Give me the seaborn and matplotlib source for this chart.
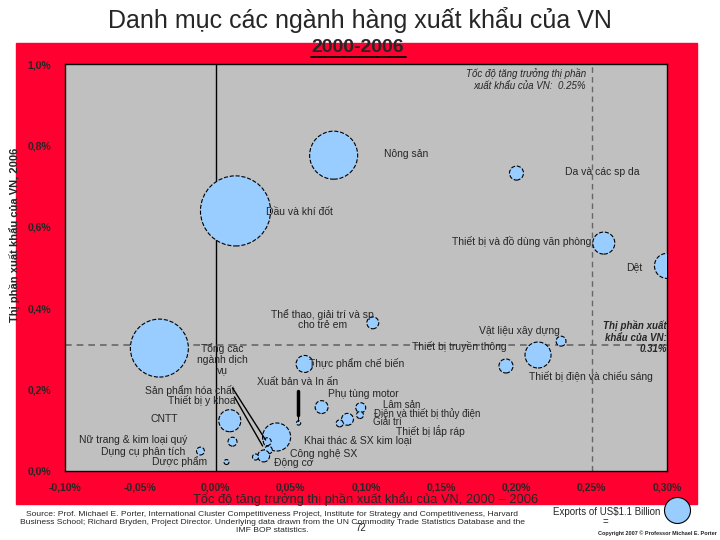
import matplotlib
matplotlib.use("Agg")
import matplotlib.pyplot as plt
from matplotlib.patches import Rectangle
from matplotlib.lines import Line2D
import pandas as pd
import seaborn as sns

# Bubbles: growth 2000-2006 (%), share 2006 (%), exports (US$ bn)
sectors = ["Dầu và khí đốt", "Nông sản", "Da và các sp da", "Thiết bị và đồ dùng văn phòng", "Dệt",
           "Tổng các ngành dịch vụ", "Thể thao, giải trí và sp cho trẻ em", "Vật liệu xây dựng",
           "Thiết bị truyền thông", "Thiết bị điện và chiếu sáng", "Thực phẩm chế biến",
           "Xuất bản và In ấn", "Phụ tùng motor", "Lâm sản", "Điện và thiết bị thủy điện", "Giải trí",
           "Thiết bị lắp ráp", "Khai thác & SX kim loại", "Sản phẩm hóa chất", "Thiết bị y khoa",
           "Công nghệ SX", "Động cơ", "CNTT", "Nữ trang & kim loại quý", "Dụng cụ phân tích", "Dược phẩm"]
growth = [0.0133, 0.0785, 0.200, 0.258, 0.300,
          -0.0373, 0.1045, 0.2296,
          0.2143, 0.193, 0.0592,
          0.0552, 0.0705, 0.0965, 0.0960, 0.0877,
          0.0825, 0.0406, 0.0344, 0.0351,
          0.032, 0.0266, 0.0095, 0.0113, -0.010, 0.0073]
share = [0.639, 0.776, 0.732, 0.560, 0.504,
         0.302, 0.364, 0.319,
         0.285, 0.258, 0.263,
         0.118, 0.157, 0.1555, 0.1376, 0.127,
         0.117, 0.0835, 0.072, 0.0516,
         0.0369, 0.0344, 0.1236, 0.072, 0.049, 0.022]
exports = [8.0, 3.75, 0.32, 0.79, 1.02,
           5.47, 0.23, 0.16,
           1.10, 0.32, 0.47,
           0.03, 0.27, 0.16, 0.08, 0.23,
           0.08, 1.28, 0.10, 0.10,
           0.23, 0.06, 0.79, 0.13, 0.10, 0.04]

legend_exports = 1.1
avg_growth = 0.25
avg_share = 0.31

x_ticks = [-0.10, -0.05, 0.00, 0.05, 0.10, 0.15, 0.20, 0.25, 0.30]
x_ticklabels = ["-0,10%", "-0,05%", "0,00%", "0,05%", "0,10%", "0,15%", "0,20%", "0,25%", "0,30%"]
y_ticks = [0.0, 0.2, 0.4, 0.6, 0.8, 1.0]
y_ticklabels = ["0,0%", "0,2%", "0,4%", "0,6%", "0,8%", "1,0%"]

# label text, x, y, horizontal alignment, font size
labels = [
    ("Nông sản", 0.1118, 0.779, "left", 7.5),
    ("Da và các sp da", 0.2323, 0.735, "left", 7.5),
    ("Dầu và khí đốt", 0.0333, 0.636, "left", 7.5),
    ("Thiết bị và đồ dùng văn phòng", 0.2496, 0.563, "right", 7.5),
    ("Dệt", 0.2729, 0.501, "left", 7.5),
    ("Thể thao, giải trí và sp\ncho trẻ em", 0.0712, 0.372, "center", 7.5),
    ("Vật liệu xây dựng", 0.175, 0.344, "left", 7.5),
    ("Thiết bị truyền thông", 0.1304, 0.307, "left", 7.5),
    ("Thiết bị điện và chiếu sáng", 0.2083, 0.231, "left", 7.5),
    ("Thực phẩm chế biến", 0.0619, 0.263, "left", 7.5),
    ("Tổng các\nngành dịch\nvụ", 0.0047, 0.275, "center", 7.5),
    ("Xuất bản và In ấn", 0.0273, 0.219, "left", 7.5),
    ("Phụ tùng motor", 0.0745, 0.189, "left", 7.5),
    ("Sản phẩm hóa chất", 0.0126, 0.199, "right", 7.5),
    ("Thiết bị y khoa", 0.0133, 0.174, "right", 7.5),
    ("CNTT", -0.0433, 0.128, "left", 7.5),
    ("Nữ trang & kim loại quý", -0.0905, 0.076, "left", 7.5),
    ("Dụng cụ phân tích", -0.0759, 0.047, "left", 7.5),
    ("Dược phẩm", -0.0419, 0.022, "left", 7.5),
    ("Lâm sản", 0.1111, 0.162, "left", 7),
    ("Điện và thiết bị thủy điện", 0.1052, 0.141, "left", 7),
    ("Giải trí", 0.1045, 0.120, "left", 7),
    ("Thiết bị lắp ráp", 0.1198, 0.098, "left", 7.5),
    ("Khai thác & SX kim loại", 0.0586, 0.076, "left", 7.5),
    ("Công nghệ SX", 0.0493, 0.042, "left", 7.5),
    ("Động cơ", 0.0386, 0.020, "left", 7.5),
]

df = pd.DataFrame({"sector": sectors, "growth": growth, "share": share, "exports": exports})

sns.set_style("white")
plt.rcParams["font.family"] = ["Liberation Sans", "DejaVu Sans"]

RED = "#FF0030"
BLUE = "#99CCFF"
pt2_per_bn = (2 * 13 * 0.72) ** 2 / legend_exports  # legend bubble ~26 px wide

fig = plt.figure(figsize=(7.2, 5.4), dpi=100)
fig.add_artist(Rectangle((16 / 720, 1 - 504 / 540), 681 / 720, 461 / 540,
                         transform=fig.transFigure, color=RED, zorder=-1))
ax = fig.add_axes([65 / 720, 1 - 471 / 540, 602 / 720, 407 / 540])
ax.set_facecolor("#C0C0C0")

vmax = max(exports)
sns.scatterplot(data=df, x="growth", y="share", size="exports",
                sizes=(0, pt2_per_bn * vmax), size_norm=(0, vmax), legend=False,
                color=BLUE, edgecolor="black", linewidth=0.8, linestyle="--",
                alpha=1, zorder=3, ax=ax)

ax.axvline(0, color="black", lw=1, zorder=1)
ax.axvline(avg_growth, color="#666666", lw=1, ls=(0, (4, 3)), zorder=1)
ax.axhline(avg_share, color="#666666", lw=1.2, ls=(0, (4, 3)), zorder=1)

ax.set_xlim(-0.10, 0.30)
ax.set_ylim(0, 1.0)
ax.set_xticks(x_ticks, x_ticklabels)
ax.set_yticks(y_ticks, y_ticklabels)
ax.tick_params(axis="x", length=4, width=1, color="black", direction="out", pad=4)
ax.tick_params(axis="y", length=0, pad=10)
for lab in ax.get_xticklabels() + ax.get_yticklabels():
    lab.set_fontsize(7.5)
    lab.set_fontweight("bold")
for sp in ax.spines.values():
    sp.set_color("black")
    sp.set_linewidth(1)
ax.set_xlabel("")
ax.set_ylabel("")

for text, lx, ly, ha, fs in labels:
    ax.text(lx, ly, text, fontsize=fs, ha=ha, va="center", zorder=4, linespacing=1.05)

# leader lines
ax.plot([0.0113, 0.0333], [0.204, 0.0762], color="black", lw=1, zorder=4)
ax.plot([0.0126, 0.0313], [0.182, 0.0614], color="black", lw=1, zorder=4)
ax.plot([0.0546, 0.0546], [0.197, 0.138], color="black", lw=2.5, zorder=4)
ax.plot([0.0546, 0.0546], [0.138, 0.123], color="black", lw=0.8, zorder=4)

ax.text(0.2463, 0.962, "Tốc độ tăng trưởng thị phần\nxuất khẩu của VN:  0.25%",
        fontsize=7, style="italic", ha="right", va="center", linespacing=1.15)
ax.text(0.300, 0.329, "Thị phần xuất\nkhẩu của VN:\n0.31%", fontsize=7, style="italic",
        fontweight="bold", ha="right", va="center", linespacing=1.15)

# titles and axis titles
fig.text(0.5, 1 - 20 / 540, "Danh mục các ngành hàng xuất khẩu của VN", fontsize=18,
         ha="center", va="center")
fig.text(358 / 720, 1 - 48 / 540, "2000-2006", fontsize=14, fontweight="bold",
         ha="center", va="center")
fig.add_artist(Line2D([311 / 720, 406 / 720], [1 - 57 / 540, 1 - 57 / 540],
                      color="black", lw=1.3, transform=fig.transFigure))
fig.text(366 / 720, 1 - 499 / 540, "Tốc độ tăng trưởng thị phần xuất khẩu của VN, 2000 – 2006",
         fontsize=9.3, ha="center", va="center")
fig.text(14 / 720, 1 - 235 / 540, "Thị phần xuất khẩu của VN, 2006", fontsize=8,
         fontweight="bold", rotation=90, ha="center", va="center")

fig.text(272 / 720, 1 - 522 / 540,
         "Source: Prof. Michael E. Porter, International Cluster Competitiveness Project, Institute for Strategy and Competitiveness, Harvard\n"
         "Business School; Richard Bryden, Project Director. Underlying data drawn from the UN Commodity Trade Statistics Database and the\n"
         "IMF BOP statistics.", fontsize=6.1, ha="center", va="center", linespacing=1.2)
fig.text(361 / 720, 1 - 528 / 540, "72", fontsize=7, ha="center", va="center")

# size legend
fig.text(553 / 720, 1 - 512 / 540, "Exports of US$1.1 Billion", fontsize=7, ha="left", va="center")
fig.text(605 / 720, 1 - 522 / 540, "=", fontsize=7, ha="center", va="center")
ax.scatter([677 / 720], [1 - 510 / 540], s=pt2_per_bn * legend_exports, color=BLUE,
           edgecolor="black", linewidth=0.8, transform=fig.transFigure, clip_on=False, zorder=5)
fig.text(657 / 720, 1 - 533 / 540, "Copyright 2007 © Professor Michael E. Porter", fontsize=4,
         fontweight="bold", ha="center", va="center")

fig.savefig("out.png", dpi=100)
